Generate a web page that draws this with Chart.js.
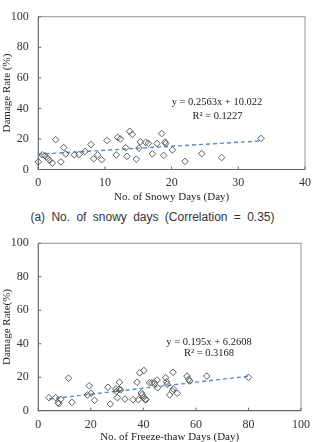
<!DOCTYPE html>
<html><head><meta charset="utf-8">
<script src="https://cdn.jsdelivr.net/npm/chart.js@4/dist/chart.umd.min.js"></script>
<style>
html,body{margin:0;padding:0;background:#fff;overflow:hidden;width:317px;height:442px;position:relative;}
canvas{position:absolute;left:0;}
#c1{top:0;}
#c2{top:225px;}
.eq{position:absolute;font-family:"Liberation Serif",serif;font-size:10.5px;color:#222;white-space:nowrap;transform:translate(-50%,-50%);line-height:1;}
.cap{position:absolute;left:0;width:305px;text-align:center;font-family:"Liberation Sans",sans-serif;font-size:12px;color:#333;white-space:nowrap;word-spacing:3px;letter-spacing:0;line-height:14px;}
</style>
</head><body>
<canvas id="c1" width="317" height="205"></canvas>
<canvas id="c2" width="317" height="220"></canvas>
<div class="eq" style="left:217px;top:102px;">y = 0.2563x + 10.022</div>
<div class="eq" style="left:217.5px;top:115.5px;">R² = 0.1227</div>
<div class="eq" style="left:209px;top:341.5px;">y = 0.195x + 6.2608</div>
<div class="eq" style="left:209px;top:353px;">R² = 0.3168</div>
<div class="cap" style="top:210px;">(a) No. of snowy days (Correlation = 0.35)</div>
<script>
// ---- data ----
const snowyDays   = [0,0.6,1,1.4,1.7,2.1,2.6,3.4,3.8,4.1,5.4,6.1,7,7.9,8.3,8.9,9.5,10.3,11.7,11.9,12.3,13.1,13.3,13.7,14.1,14.7,15.1,15.3,16.1,16.5,17.1,17.8,18.5,18.8,19,19.1,20.1,22,24.5,27.5,33.4];
const snowyDamage = [5,9.6,9,7.3,6,4.2,19.5,5,14.4,10.2,9.6,9.8,11.8,16.3,7,9.6,6.4,19,9.6,21,20,14.3,8.6,25,23,6.8,14,18.1,17.7,17.1,10.3,17,23.5,9.2,18,17,12.8,5.3,10.4,7.8,20.3];
const snowyTrendX = [0,33.4];
const snowyTrendY = [10.0,18.7];

const freezeDays   = [4.1,6.6,7.5,7.8,8.5,11.5,12.8,18.7,19.4,20.1,21.4,26.5,27.4,29.5,29.7,30.1,30.7,30.9,31.3,33,36.1,37.6,38.1,38.6,39.2,39.5,40.1,40.2,40.7,41,42.3,43.2,44.2,45.2,45.4,48.5,48.8,49.1,50,51,51.3,51.4,52.9,56.6,57.2,57.6,64.1,80];
const freezeDamage = [7.8,7.8,4.8,4.2,6.8,19.4,5,9.4,14.9,10.4,6.2,14,4,13,11.5,7.8,12.8,17,12.4,7,6.6,17,6.6,22.6,10.6,9.6,8,24,6.6,6.6,16.7,16.7,16.7,18.3,13.7,19.7,17.3,15.8,9.4,11.8,22.9,13,10.4,20.7,18.7,17.7,20.7,19.9];
const freezeTrendX = [4.1,80];
const freezeTrendY = [7.0,20.6];

const snowyXTicks  = [0,10,20,30,40];
const freezeXTicks = [0,20,40,60,80,100];
const yTicks       = [0,10,20,30,40,50,60,70,80,90,100];

const SERIF = '"Liberation Serif", "Times New Roman", serif';
const pts = (xs, ys) => xs.map((v, i) => ({x: v, y: ys[i]}));

const framePlugin = {
  id: 'frame',
  beforeDatasetsDraw(chart) {
    const {ctx, chartArea: a, scales: {x, y}} = chart;
    ctx.save();
    ctx.strokeStyle = '#a8a8a8';
    ctx.lineWidth = 1.2;
    ctx.beginPath();
    ctx.moveTo(a.left, a.top); ctx.lineTo(a.right, a.top); ctx.lineTo(a.right, a.bottom);
    ctx.stroke();
    ctx.strokeStyle = '#666';
    ctx.lineWidth = 1.2;
    ctx.beginPath();
    ctx.moveTo(a.left, a.top); ctx.lineTo(a.left, a.bottom); ctx.lineTo(a.right, a.bottom);
    ctx.stroke();
    ctx.lineWidth = 1;
    ctx.beginPath();
    x.ticks.forEach(t => { const p = x.getPixelForValue(t.value); ctx.moveTo(p, a.bottom); ctx.lineTo(p, a.bottom - 3); });
    y.ticks.forEach(t => { const p = y.getPixelForValue(t.value); ctx.moveTo(a.left, p); ctx.lineTo(a.left + 3, p); });
    ctx.stroke();
    ctx.restore();
  }
};

function makeChart(id, opt) {
  return new Chart(document.getElementById(id), {
    type: 'scatter',
    data: {
      datasets: [
        {
          data: pts(opt.xs, opt.ys),
          pointStyle: 'rectRot', pointRadius: 3.3, pointHoverRadius: 3.3,
          pointBackgroundColor: 'rgba(255,255,255,0)', pointBorderColor: '#4a4a4a', pointBorderWidth: 0.9,
          order: 0, clip: false
        },
        {
          data: pts(opt.tx, opt.ty), showLine: true, pointRadius: 0,
          borderColor: '#5a8fc8', borderWidth: 1.4, borderDash: [4, 3], order: 1
        }
      ]
    },
    options: {
      responsive: false, animation: false, events: [],
      layout: {padding: opt.pad},
      plugins: {legend: {display: false}, tooltip: {enabled: false}},
      scales: {
        x: {
          type: 'linear', min: 0, max: opt.xmax,
          afterBuildTicks: s => { s.ticks = opt.xticks.map(v => ({value: v})); },
          afterFit: s => { s.height = opt.xh; },
          grid: {display: false, drawTicks: false}, border: {display: false},
          ticks: {padding: opt.xtp, color: '#333', font: {family: SERIF, size: 12}},
          title: {display: true, text: opt.xtitle, color: '#222', padding: {top: 0, bottom: opt.xpb}, font: {family: SERIF, size: 11}}
        },
        y: {
          type: 'linear', min: 0, max: 100,
          afterBuildTicks: s => { s.ticks = yTicks.map(v => ({value: v})); },
          afterFit: s => { s.width = 38.3; },
          grid: {display: false, drawTicks: false}, border: {display: false},
          ticks: {padding: 9.5, color: '#333', font: {family: SERIF, size: 12}},
          title: {display: true, text: opt.ytitle, color: '#222', padding: {top: 1, bottom: 0}, font: {family: SERIF, size: 11}}
        }
      }
    },
    plugins: [framePlugin]
  });
}

makeChart('c1', {
  xs: snowyDays, ys: snowyDamage, tx: snowyTrendX, ty: snowyTrendY,
  xmax: 40, xticks: snowyXTicks, xh: 35.5, xtp: 6, xpb: 1.7,
  pad: {top: 1.5, right: 7, left: 0, bottom: 0},
  xtitle: 'No. of Snowy Days (Day)', ytitle: 'Damage Rate (%)'
});
makeChart('c2', {
  xs: freezeDays, ys: freezeDamage, tx: freezeTrendX, ty: freezeTrendY,
  xmax: 100, xticks: freezeXTicks, xh: 34.3, xtp: 7, xpb: 1.4,
  pad: {top: 18.3, right: 10.5, left: 0, bottom: 0},
  xtitle: 'No. of Freeze-thaw Days (Day)', ytitle: 'Damage Rate(%)'
});
</script>
</body></html>
